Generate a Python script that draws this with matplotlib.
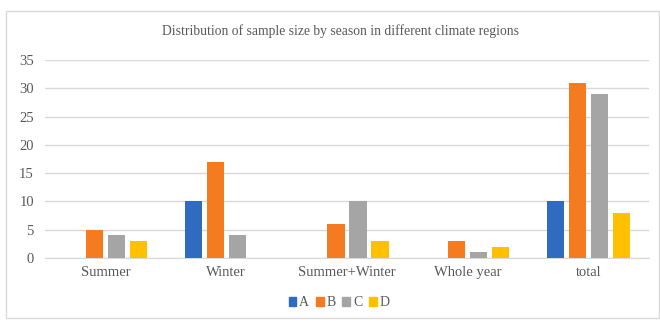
import matplotlib
matplotlib.use("Agg")
import matplotlib.pyplot as plt
import numpy as np
from matplotlib.patches import Rectangle

categories = ["Summer", "Winter", "Summer+Winter", "Whole year", "total"]
series_names = ["A", "B", "C", "D"]
A = [0, 10, 0, 0, 10]
B = [5, 17, 6, 3, 31]
C = [4, 4, 10, 1, 29]
D = [3, 0, 3, 2, 8]
colors = ["#2F6BC0", "#F47B20", "#A5A5A5", "#FFC000"]

plt.rcParams['font.family'] = ['Liberation Serif', 'DejaVu Serif']

W, H = 660, 323
fig = plt.figure(figsize=(W / 100, H / 100), dpi=100)
fig.patch.set_facecolor("white")

# outer frame
fig.patches.append(Rectangle((6 / W, 1 - 318 / H), (W - 7) / W, (318 - 11) / H,
                             transform=fig.transFigure, fill=False,
                             edgecolor="#D9D9D9", linewidth=1.0))

ax = fig.add_axes([45 / W, 1 - 258 / H, (649 - 45) / W, (258 - 60) / H])
x = np.arange(len(categories))
width = 0.142
step = 0.182
data = [A, B, C, D]
for i, (name, vals) in enumerate(zip(series_names, data)):
    ax.bar(x + (i - 1.5) * step, vals, width=width, color=colors[i], label=name, zorder=3)

ax.set_xlim(-0.5, len(categories) - 0.5)
ax.set_ylim(0, 35)
ax.set_yticks(np.arange(0, 36, 5))
ax.grid(axis="y", color="#D9D9D9", linewidth=1.0, zorder=0)
for s in ["top", "right", "left"]:
    ax.spines[s].set_visible(False)
ax.spines["bottom"].set_color("#D9D9D9")
ax.set_xticks(x)
ax.set_xticklabels(categories)
ax.tick_params(axis="both", length=0, labelsize=10.5, labelcolor="#595959", pad=6)
ax.tick_params(axis="y", pad=8)

fig.text(340 / W, 1 - 31 / H, "Distribution of sample size by season in different climate regions",
         ha="center", va="center", fontsize=9.8, color="#595959")

handles = [Rectangle((0, 0), 1, 1, color=c) for c in colors]
fig.legend(handles, series_names, loc="center", bbox_to_anchor=(339 / W, 1 - 303 / H),
           ncol=4, frameon=False, fontsize=10, handlelength=0.55, handleheight=0.55,
           handletextpad=0.2, columnspacing=0.5, labelcolor="#595959")

fig.savefig("out.png", dpi=100, facecolor="white")
